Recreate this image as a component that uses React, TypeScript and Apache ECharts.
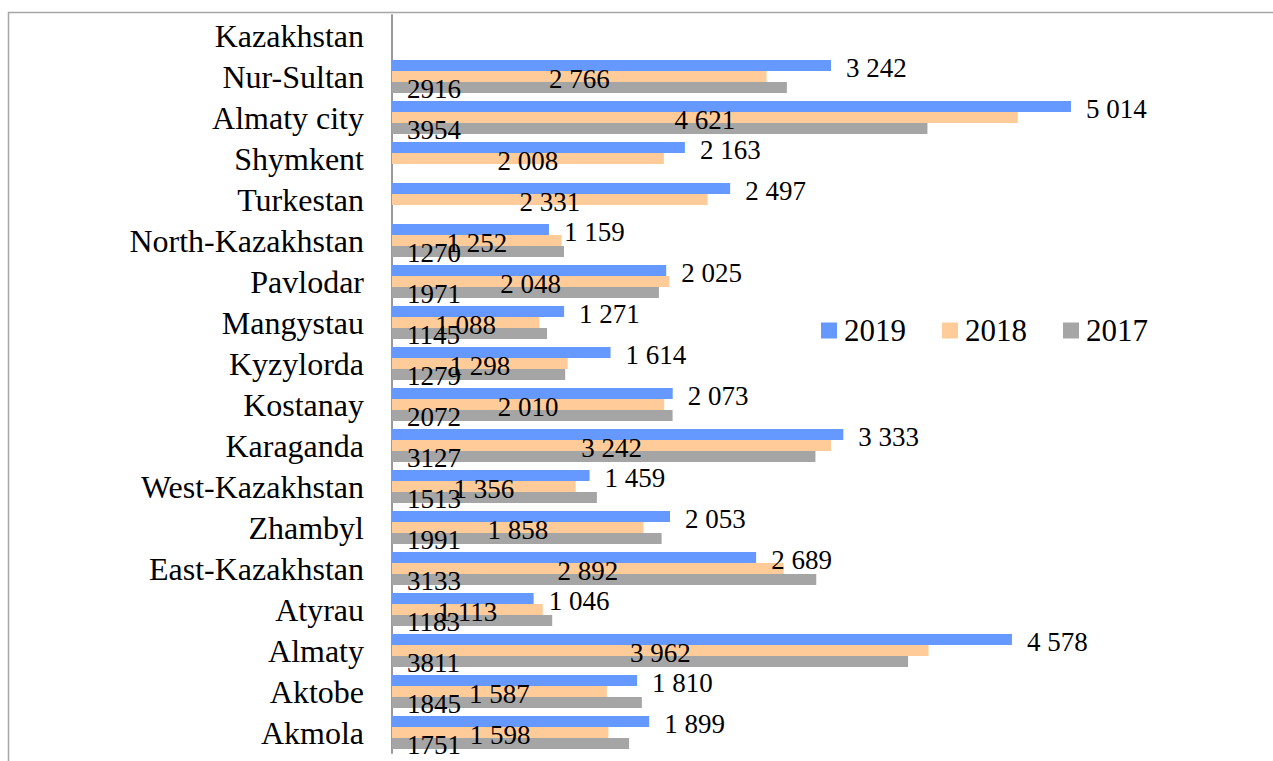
import React, { useEffect, useRef } from "react";
import * as echarts from "echarts";

const categories = [
  "Akmola", "Aktobe", "Almaty", "Atyrau", "East-Kazakhstan", "Zhambyl",
  "West-Kazakhstan", "Karaganda", "Kostanay", "Kyzylorda", "Mangystau",
  "Pavlodar", "North-Kazakhstan", "Turkestan", "Shymkent", "Almaty city",
  "Nur-Sultan", "Kazakhstan",
];
const values2019 = [1899, 1810, 4578, 1046, 2689, 2053, 1459, 3333, 2073, 1614, 1271, 2025, 1159, 2497, 2163, 5014, 3242, null];
const values2018 = [1598, 1587, 3962, 1113, 2892, 1858, 1356, 3242, 2010, 1298, 1088, 2048, 1252, 2331, 2008, 4621, 2766, null];
const values2017 = [1751, 1845, 3811, 1183, 3133, 1991, 1513, 3127, 2072, 1279, 1145, 1971, 1270, null, null, 3954, 2916, null];
const legendNames = ["2019", "2018", "2017"];

const FONT = "'Liberation Serif', 'Times New Roman', serif";

const fmtSpace = (v: number) =>
  v >= 1000 ? `${Math.floor(v / 1000)} ${String(v % 1000).padStart(3, "0")}` : String(v);

export default function App() {
  const ref = useRef<HTMLDivElement>(null);
  useEffect(() => {
    if (!ref.current) return;
    const chart = echarts.init(ref.current, null, { renderer: "svg" });
    const labelBase = { show: true, color: "#000", fontFamily: FONT, fontSize: 27 };
    chart.setOption({
      animation: false,
      backgroundColor: "#fff",
      graphic: [
        {
          type: "rect",
          shape: { x: 8.5, y: 12.5, width: 1300, height: 800 },
          style: { fill: "none", stroke: "#a6a6a6", lineWidth: 1.5 },
          silent: true,
        },
      ],
      legend: {
        data: legendNames,
        left: 816,
        top: 310,
        itemWidth: 20,
        itemHeight: 16,
        itemGap: 36,
        icon: "path://M0,0H16V16H0Z",
        textStyle: { fontFamily: FONT, fontSize: 31, color: "#000" },
      },
      grid: { left: 392, top: 15, width: 812.5, height: 738, containLabel: false },
      xAxis: { type: "value", min: 0, max: 6000, show: false },
      yAxis: {
        type: "category",
        data: categories,
        axisLine: { lineStyle: { color: "#999", width: 2 } },
        axisTick: { interval: 0, length: 9, lineStyle: { color: "#999", width: 2 } },
        axisLabel: { interval: 0, fontFamily: FONT, fontSize: 32, color: "#000", margin: 28 },
      },
      series: [
        {
          name: "2019",
          type: "bar",
          data: values2019,
          barGap: "0%",
          barCategoryGap: "20%",
          itemStyle: { color: "#6699ff" },
          label: { ...labelBase, position: "right", distance: 15, formatter: (p: any) => fmtSpace(p.value), offset: [0, 2] },
        },
        {
          name: "2018",
          type: "bar",
          data: values2018,
          barGap: "0%",
          barCategoryGap: "20%",
          itemStyle: { color: "#ffcc99" },
          label: { ...labelBase, position: "inside", formatter: (p: any) => fmtSpace(p.value), offset: [0, 2] },
        },
        {
          name: "2017",
          type: "bar",
          data: values2017,
          barGap: "0%",
          barCategoryGap: "20%",
          itemStyle: { color: "#a5a5a5" },
          label: { ...labelBase, position: "insideLeft", distance: 15, formatter: (p: any) => String(p.value), offset: [0, 2] },
        },
      ],
    });
    return () => chart.dispose();
  }, []);
  return (
    <div
      ref={ref}
      style={{ position: "absolute", left: 0, top: 0, width: 1273, height: 761 }}
    />
  );
}
